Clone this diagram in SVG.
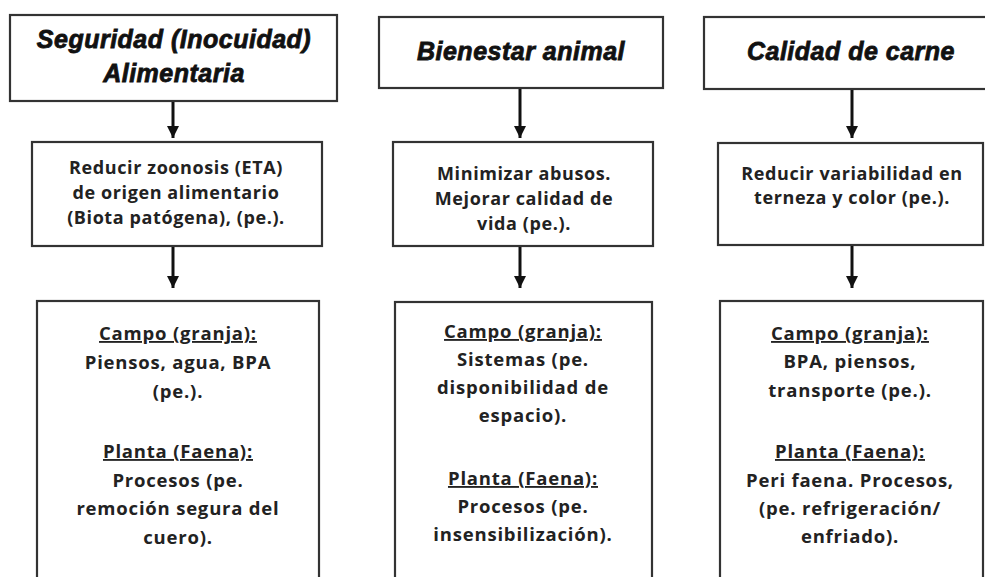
<svg xmlns="http://www.w3.org/2000/svg" width="985" height="577" viewBox="0 0 985 577">
<style>
.box{fill:#fff;stroke:#333;stroke-width:2.2}
.title{font-family:"Liberation Sans",Arial,sans-serif;font-weight:bold;font-style:italic;font-size:25px;letter-spacing:0.5px;fill:#111;stroke:#111;stroke-width:0.8;text-anchor:middle}
.mid{font-family:"Open Sans",Lato,sans-serif;font-weight:bold;font-size:18px;letter-spacing:0.6px;fill:#222;text-anchor:middle}
.bot{font-family:"Open Sans",Lato,sans-serif;font-weight:bold;font-size:18.5px;letter-spacing:0.8px;fill:#222;text-anchor:middle}
.u{text-decoration:underline}
.conn{stroke:#111;stroke-width:3;fill:none}
</style>
<defs>
<marker id="ah" markerWidth="4" markerHeight="4" refX="10" refY="5" orient="auto" markerUnits="strokeWidth" viewBox="0 0 10 10">
<path d="M0,0 L10,5 L0,10 Z" fill="#111"/>
</marker>
</defs>
<rect width="985" height="577" fill="#fff"/>
<g id="t1"><rect class="box" x="10" y="15" width="327" height="86"/>
<text class="title" x="174" y="48">Seguridad (Inocuidad)</text>
<text class="title" x="174" y="82">Alimentaria</text></g>
<g id="t2"><rect class="box" x="379" y="17" width="284" height="71"/>
<text class="title" x="521" y="60">Bienestar animal</text></g>
<g id="t3"><rect class="box" x="704" y="17" width="290" height="72"/>
<text class="title" x="851" y="60">Calidad de carne</text></g>
<g id="m1"><rect class="box" x="32" y="142" width="290" height="104"/>
<text class="mid" x="176" y="174">Reducir zoonosis (ETA)</text>
<text class="mid" x="176" y="199">de origen alimentario</text>
<text class="mid" x="176" y="224">(Biota patógena), (pe.).</text></g>
<g id="m2"><rect class="box" x="393" y="142" width="260" height="104"/>
<text class="mid" x="524" y="180">Minimizar abusos.</text>
<text class="mid" x="524" y="205">Mejorar calidad de</text>
<text class="mid" x="524" y="230">vida (pe.).</text></g>
<g id="m3"><rect class="box" x="718" y="143" width="265" height="102"/>
<text class="mid" x="852" y="180">Reducir variabilidad en</text>
<text class="mid" x="852" y="204">terneza y color (pe.).</text></g>
<g id="b1"><rect class="box" x="37" y="301" width="282" height="290"/>
<text class="bot u" x="178" y="340">Campo (granja):</text>
<text class="bot" x="178" y="369">Piensos, agua, BPA</text>
<text class="bot" x="178" y="398">(pe.).</text>
<text class="bot u" x="178" y="458">Planta (Faena):</text>
<text class="bot" x="178" y="487">Procesos (pe.</text>
<text class="bot" x="178" y="515">remoción segura del</text>
<text class="bot" x="178" y="544">cuero).</text></g>
<g id="b2"><rect class="box" x="395" y="302" width="257" height="290"/>
<text class="bot u" x="523" y="338">Campo (granja):</text>
<text class="bot" x="523" y="366">Sistemas (pe.</text>
<text class="bot" x="523" y="394">disponibilidad de</text>
<text class="bot" x="523" y="422">espacio).</text>
<text class="bot u" x="523" y="485">Planta (Faena):</text>
<text class="bot" x="523" y="513">Procesos (pe.</text>
<text class="bot" x="523" y="541">insensibilización).</text></g>
<g id="b3"><rect class="box" x="720" y="301" width="263" height="290"/>
<text class="bot u" x="850" y="340">Campo (granja):</text>
<text class="bot" x="850" y="368">BPA, piensos,</text>
<text class="bot" x="850" y="397">transporte (pe.).</text>
<text class="bot u" x="850" y="458">Planta (Faena):</text>
<text class="bot" x="850" y="487">Peri faena. Procesos,</text>
<text class="bot" x="850" y="515">(pe. refrigeración/</text>
<text class="bot" x="850" y="543">enfriado).</text></g>
<g id="connectors">
<line class="conn" x1="173" y1="102" x2="173" y2="138" marker-end="url(#ah)"/>
<line class="conn" x1="520" y1="89" x2="520" y2="138" marker-end="url(#ah)"/>
<line class="conn" x1="852" y1="90" x2="852" y2="138" marker-end="url(#ah)"/>
<line class="conn" x1="173" y1="247" x2="173" y2="288" marker-end="url(#ah)"/>
<line class="conn" x1="520" y1="247" x2="520" y2="288" marker-end="url(#ah)"/>
<line class="conn" x1="852" y1="246" x2="852" y2="288" marker-end="url(#ah)"/>
</g>
</svg>
